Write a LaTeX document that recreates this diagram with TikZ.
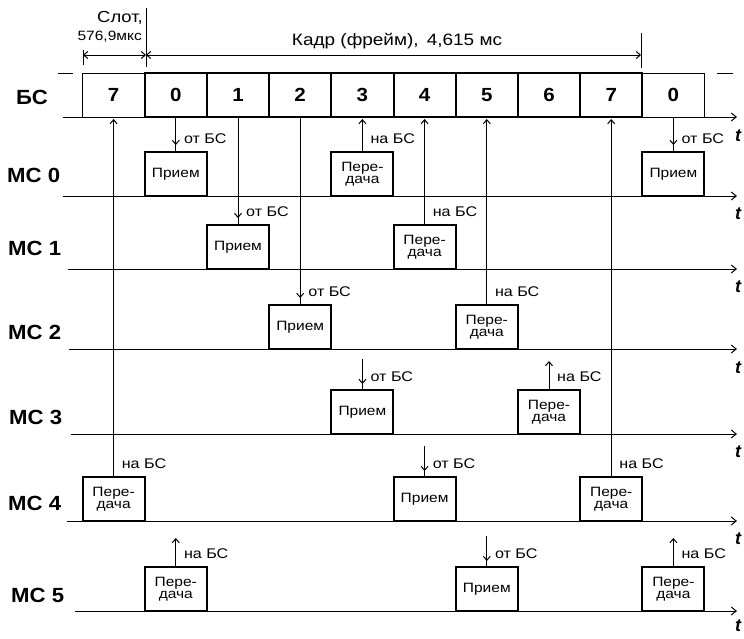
\documentclass[tikz,border=0pt]{standalone}
\usepackage{fontspec}
\setmainfont{Liberation Sans}[FakeStretch=1.15]
\newfontfamily\boldsans{Liberation Sans Bold}[FakeStretch=1.08]
\newfontfamily\tfont{Liberation Sans Bold Italic}
\usetikzlibrary{arrows.meta,calc}
\begin{document}
\begin{tikzpicture}[x=1pt,y=-1pt,
  slotbox/.style={draw, line width=2pt, minimum width=62.2pt, minimum height=44pt, inner sep=0pt, font=\fontsize{19}{19}\boldsans},
  slotthin/.style={slotbox, line width=1pt},
  evbox/.style={draw, line width=2pt, minimum width=62pt, minimum height=44pt, inner sep=0pt, align=center, font=\fontsize{13.5}{12.5}\selectfont},
  lbl/.style={font=\fontsize{14}{14}\selectfont, anchor=west, inner sep=0pt},
  mslbl/.style={font=\fontsize{20.5}{20.5}\boldsans, anchor=west, inner sep=0pt},
  tlbl/.style={font=\fontsize{18}{18}\tfont, inner sep=0pt},
  sig/.style={line width=1pt},
  axisline/.style={line width=1pt, -{Straight Barb[length=5pt,width=8pt]}},
  tip/.style={-{Straight Barb[length=4pt,width=7pt]}},
  tips/.style={{Straight Barb[length=4pt,width=7pt]}-{Straight Barb[length=4pt,width=7pt]}}
]
\useasboundingbox (0,0) rectangle (744,638);

% ---------- top dimensions ----------
\coordinate (tk1a) at (83,50);  \coordinate (tk1b) at (83,65);
\coordinate (tk2a) at (146,8);  \coordinate (tk2b) at (146,67);
\coordinate (tk3a) at (641,33); \coordinate (tk3b) at (641,68);
\draw[sig] (tk1a) -- (tk1b);
\draw[sig] (tk2a) -- (tk2b);
\draw[sig] (tk3a) -- (tk3b);
\coordinate (d1) at (83,55); \coordinate (d2) at (146,55); \coordinate (d3) at (641,55);
\draw[sig,tips] (d1) -- (d2);
\draw[sig,tips] (d2) -- (d3);
\node[anchor=east, inner sep=0pt, font=\fontsize{16}{16}\selectfont] (slt) at (143,18) {Слот,};
\node[anchor=east, inner sep=0pt, font=\fontsize{13.5}{13.5}\selectfont] (sltd) at (142,37) {576,9мкс};
\node[inner sep=0pt, font=\fontsize{16.5}{16.5}\selectfont] (frm) at (397,41) {Кадр (фрейм),\, 4,615 мс};

% ---------- BS row ----------
\draw[sig] (58,73) -- (73,73);
\draw[sig] (717,73) -- (733,73);
\node[slotthin] (b0) at (113.6,95) {7};
\node[slotthin] (b9) at (673.4,95) {0};
\foreach \i/\t in {1/0,2/1,3/2,4/3,5/4,6/5,7/6,8/7}{
  \node[slotbox] (b\i) at ({113.6+62.2*\i},95) {\t};
}
\node[mslbl] (lbs) at (16,97) {БС};

% ---------- axes ----------
\coordinate (bsax) at (0,117);
\foreach \n/\y/\xs/\dt in {bs/117/63/19, a0/196/63/18, a1/269/68/18, a2/349/69/19, a3/434/71/18, a4/521/67/18, a5/611/75/15}{
  \coordinate (\n l) at (\xs,\y);
  \coordinate (\n r) at (737,\y);
  \draw[axisline] (\n l) -- (\n r);
  \node[tlbl] (t\n) at (738,\y+\dt) {t};
}

% ---------- MS labels ----------
\node[mslbl] (m0) at (7,175) {МС 0};
\node[mslbl] (m1) at (8,248) {МС 1};
\node[mslbl] (m2) at (8,332) {МС 2};
\node[mslbl] (m3) at (9,417) {МС 3};
\node[mslbl] (m4) at (8,503) {МС 4};
\node[mslbl] (m5) at (11,595) {МС 5};

% ---------- boxes ----------
\node[evbox] (r0a) at (175.8,174) {Прием};
\node[evbox] (t0a) at (362.4,174) {Пере-\\дача};
\node[evbox] (r0b) at (673.4,174) {Прием};

\node[evbox] (r1a) at (238.0,247) {Прием};
\node[evbox] (t1a) at (424.6,247) {Пере-\\дача};

\node[evbox] (r2a) at (300.2,327) {Прием};
\node[evbox] (t2a) at (486.8,327) {Пере-\\дача};

\node[evbox] (r3a) at (362.4,412) {Прием};
\node[evbox] (t3a) at (549.0,412) {Пере-\\дача};

\node[evbox] (t4a) at (113.6,499) {Пере-\\дача};
\node[evbox] (r4a) at (424.6,499) {Прием};
\node[evbox] (t4b) at (611.2,499) {Пере-\\дача};

\node[evbox] (t5a) at (175.8,589) {Пере-\\дача};
\node[evbox] (r5a) at (486.8,589) {Прием};
\node[evbox] (t5b) at (673.4,589) {Пере-\\дача};

% ---------- receive arrows from BS axis ----------
\foreach \b in {r0a,r0b,r1a,r2a}{
  \draw[sig] (\b.north |- bsax) -- (\b.north);
  \draw[sig,tip] (\b.north |- bsax) -- ($(\b.north)+(0,-6)$);
  \node[lbl] at ($(\b.north)+(8,-12)$) {от БС};
}
% short receive arrows
\foreach \b in {r3a,r4a,r5a}{
  \draw[sig] ($(\b.north)+(0,-30)$) -- (\b.north);
  \draw[sig,tip] ($(\b.north)+(0,-30)$) -- ($(\b.north)+(0,-5)$);
  \node[lbl] at ($(\b.north)+(8,-12)$) {от БС};
}
% ---------- transmit arrows to BS axis ----------
\foreach \b in {t0a,t1a,t2a,t4a,t4b}{
  \draw[sig,tip] (\b.north) -- ($(\b.north |- bsax)+(0,2)$);
  \node[lbl] at ($(\b.north)+(8,-12)$) {на БС};
}
% short transmit arrows
\foreach \b in {t3a,t5a,t5b}{
  \draw[sig,tip] (\b.north) -- ($(\b.north)+(0,-28)$);
  \node[lbl] at ($(\b.north)+(8,-12)$) {на БС};
}
\end{tikzpicture}
\end{document}
